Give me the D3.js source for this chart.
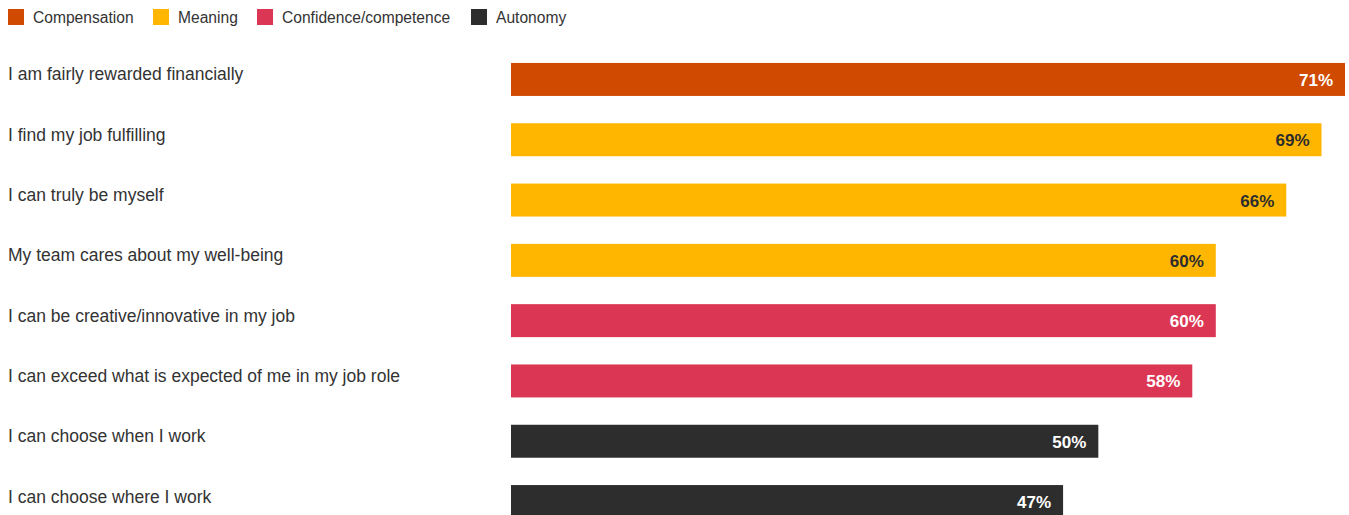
<!DOCTYPE html>
<html>
<head>
<meta charset="utf-8">
<script src="https://cdn.jsdelivr.net/npm/d3@7"></script>
<style>
  html, body { margin: 0; padding: 0; background: #fff; }
  svg { display: block; font-family: "Liberation Sans", Arial, sans-serif; }
</style>
</head>
<body>
<div id="chart"></div>
<script>
const groups = ["Compensation", "Meaning", "Confidence/competence", "Autonomy"];
const groupColors = ["#D04A02", "#FFB600", "#DB3754", "#2D2D2D"];
const groupTextColors = ["#fff", "#2D2D2D", "#fff", "#fff"];

const statements = [
    "I am fairly rewarded financially",
    "I find my job fulfilling",
    "I can truly be myself",
    "My team cares about my well-being",
    "I can be creative/innovative in my job",
    "I can exceed what is expected of me in my job role",
    "I can choose when I work",
    "I can choose where I work"
];
const values = [71, 69, 66, 60, 60, 58, 50, 47];
const statementGroup = ["Compensation", "Meaning", "Meaning", "Meaning",
    "Confidence/competence", "Confidence/competence", "Autonomy", "Autonomy"];

const width = 1349, height = 515;

const svg = d3.select("#chart")
    .append("svg")
    .attr("width", width)
    .attr("height", height);

const color = d3.scaleOrdinal().domain(groups).range(groupColors);
const textColor = d3.scaleOrdinal().domain(groups).range(groupTextColors);

const x = d3.scaleLinear().domain([0, 71]).range([511, 1345]);
const y = d3.scaleBand()
    .domain(statements)
    .range([49.3, 49.3 + 8 * 60.3])
    .paddingInner(0.453)
    .paddingOuter(0.2265);

// Legend
const legendX = [8, 153, 257, 471];
const legend = svg.append("g")
    .selectAll("g")
    .data(groups)
    .enter()
    .append("g")
    .attr("transform", (d, i) => `translate(${legendX[i]},9)`);

legend.append("rect")
    .attr("width", 16)
    .attr("height", 16)
    .attr("fill", d => color(d));

legend.append("text")
    .attr("x", 25)
    .attr("y", 13.5)
    .attr("font-size", "15.6px")
    .attr("fill", "#333")
    .text(d => d);

// Rows
const rows = statements.map((s, i) => ({ s, v: values[i], g: statementGroup[i] }));

svg.append("g")
    .selectAll("text")
    .data(rows)
    .enter()
    .append("text")
    .attr("x", 8)
    .attr("y", d => y(d.s) + 17.5)
    .attr("font-size", "17.5px")
    .attr("fill", "#333")
    .text(d => d.s);

svg.append("g")
    .selectAll("rect")
    .data(rows)
    .enter()
    .append("rect")
    .attr("x", x(0))
    .attr("y", d => y(d.s))
    .attr("width", d => x(d.v) - x(0))
    .attr("height", y.bandwidth())
    .attr("fill", d => color(d.g));

svg.append("g")
    .selectAll("text")
    .data(rows)
    .enter()
    .append("text")
    .attr("x", d => x(d.v) - 12)
    .attr("y", d => y(d.s) + y.bandwidth() / 2 + 6.5)
    .attr("text-anchor", "end")
    .attr("font-size", "17px")
    .attr("font-weight", "bold")
    .attr("fill", d => textColor(d.g))
    .text(d => d.v + "%");
</script>
</body>
</html>
